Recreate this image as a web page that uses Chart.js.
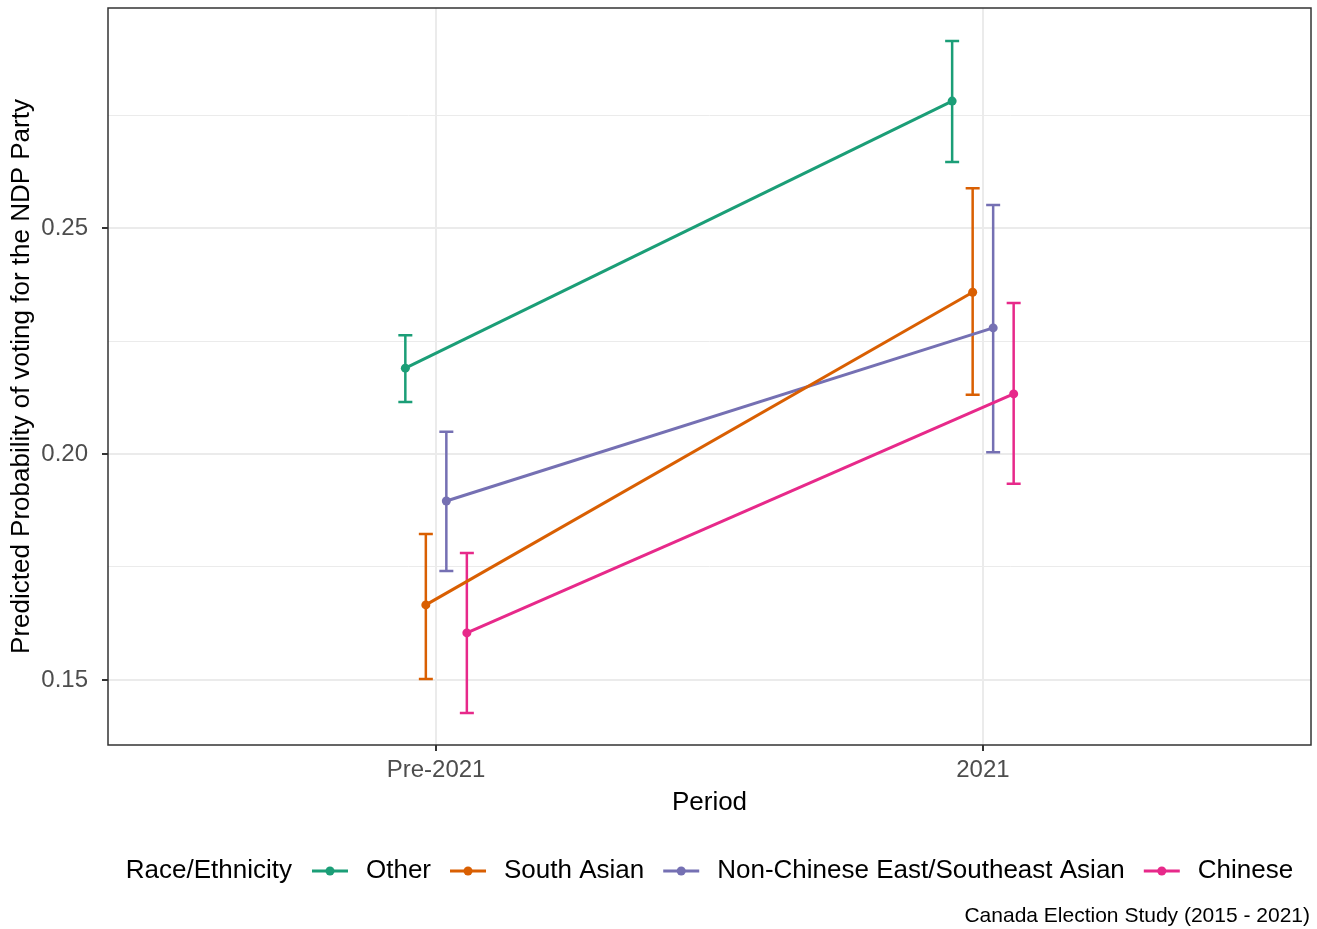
<!DOCTYPE html>
<html>
<head>
<meta charset="utf-8">
<script src="https://cdn.jsdelivr.net/npm/chart.js@4"></script>
<style>
html, body { margin: 0; padding: 0; background: #fff; }
#wrap { width: 1317px; height: 929px; }
</style>
</head>
<body>
<div id="wrap"><canvas id="ndpChart"></canvas></div>
<script>
// data
const periods = ['Pre-2021', '2021'];
const groups = ['Other', 'South Asian', 'Non-Chinese East/Southeast Asian', 'Chinese'];
const colors = ['#1B9E77', '#D95F02', '#7570B3', '#E7298A'];

const otherProb = [0.2190, 0.2781];
const otherLow = [0.2115, 0.2646];
const otherHigh = [0.2263, 0.2914];

const southAsianProb = [0.1666, 0.2358];
const southAsianLow = [0.1502, 0.2131];
const southAsianHigh = [0.1823, 0.2588];

const eastAsianProb = [0.1896, 0.2279];
const eastAsianLow = [0.1741, 0.2004];
const eastAsianHigh = [0.2049, 0.2551];

const chineseProb = [0.1604, 0.2133];
const chineseLow = [0.1427, 0.1934];
const chineseHigh = [0.1781, 0.2334];

const majorTicks = [0.15, 0.20, 0.25];
const minorTicks = [0.175, 0.225, 0.275];
const caption = 'Canada Election Study (2015 - 2021)';
const legendTitle = 'Race/Ethnicity';

const probs = [otherProb, southAsianProb, eastAsianProb, chineseProb];
const lows = [otherLow, southAsianLow, eastAsianLow, chineseLow];
const highs = [otherHigh, southAsianHigh, eastAsianHigh, chineseHigh];

// position_dodge(width = 0.15)
const dodge = [-0.05625, -0.01875, 0.01875, 0.05625];

const FONT = '"Liberation Sans", Arial, Helvetica, sans-serif';
Chart.defaults.font.family = FONT;

const isMajor = v => majorTicks.some(m => Math.abs(m - v) < 1e-6);

const datasets = groups.map((g, i) => ({
    label: g,
    data: periods.map((p, j) => ({ x: j + 1 + dodge[i], y: probs[i][j] })),
    borderColor: colors[i],
    backgroundColor: colors[i],
    borderWidth: 3,
    pointRadius: 4.5,
    pointBorderWidth: 0,
    showLine: true,
    fill: false
}));

const extras = {
    id: 'extras',
    beforeDatasetsDraw(chart) {
        const ctx = chart.ctx;
        const xs = chart.scales.x, ys = chart.scales.y;
        ctx.save();
        ctx.lineWidth = 2.5;
        groups.forEach((g, i) => {
            ctx.strokeStyle = colors[i];
            periods.forEach((p, j) => {
                const x = xs.getPixelForValue(j + 1 + dodge[i]);
                const y1 = ys.getPixelForValue(lows[i][j]);
                const y2 = ys.getPixelForValue(highs[i][j]);
                ctx.beginPath();
                ctx.moveTo(x, y1); ctx.lineTo(x, y2);
                ctx.moveTo(x - 7, y1); ctx.lineTo(x + 7, y1);
                ctx.moveTo(x - 7, y2); ctx.lineTo(x + 7, y2);
                ctx.stroke();
            });
        });
        ctx.restore();
    },
    afterDraw(chart) {
        const ctx = chart.ctx;
        const a = chart.chartArea;
        ctx.save();
        // panel border
        ctx.strokeStyle = '#333333';
        ctx.lineWidth = 1.5;
        ctx.strokeRect(a.left, a.top, a.right - a.left, a.bottom - a.top);

        // legend
        ctx.font = '26px ' + FONT;
        ctx.textBaseline = 'middle';
        ctx.fillStyle = '#000';
        const keyW = 36, gapTitle = 20, gapText = 18, gapItem = 19;
        let total = ctx.measureText(legendTitle).width + gapTitle;
        groups.forEach((g, i) => {
            total += keyW + gapText + ctx.measureText(g).width;
            if (i < groups.length - 1) total += gapItem;
        });
        let x = (a.left + a.right) / 2 - total / 2;
        const ly = a.bottom + 126;
        ctx.fillText(legendTitle, x, ly);
        x += ctx.measureText(legendTitle).width + gapTitle;
        groups.forEach((g, i) => {
            ctx.strokeStyle = colors[i];
            ctx.fillStyle = colors[i];
            ctx.lineWidth = 3;
            ctx.beginPath();
            ctx.moveTo(x, ly); ctx.lineTo(x + keyW, ly);
            ctx.stroke();
            ctx.beginPath();
            ctx.arc(x + keyW / 2, ly, 4.5, 0, Math.PI * 2);
            ctx.fill();
            x += keyW + gapText;
            ctx.fillStyle = '#000';
            ctx.fillText(g, x, ly);
            x += ctx.measureText(g).width + gapItem;
        });

        // caption
        ctx.font = '21px ' + FONT;
        ctx.textAlign = 'right';
        ctx.fillText(caption, chart.width - 7, a.bottom + 171);
        ctx.restore();
    }
};

const chart = new Chart(document.getElementById('ndpChart'), {
    type: 'scatter',
    data: { datasets: datasets },
    options: {
        responsive: true,
        maintainAspectRatio: false,
        animation: false,
        layout: { padding: { top: 8, right: 6, left: 0, bottom: 109 } },
        plugins: {
            legend: { display: false },
            tooltip: { enabled: false }
        },
        scales: {
            x: {
                type: 'linear',
                min: 0.4,
                max: 2.6,
                afterBuildTicks: s => { s.ticks = periods.map((p, j) => ({ value: j + 1 })); },
                afterFit: s => { s.height = 75; s.paddingLeft = 0; s.paddingRight = 0; },
                ticks: {
                    autoSkip: false,
                    padding: 5,
                    color: '#4d4d4d',
                    font: { size: 24 },
                    callback: v => periods[Math.round(v) - 1]
                },
                grid: { color: '#ebebeb', lineWidth: 2, tickColor: '#333333', tickLength: 6 },
                border: { display: false },
                title: {
                    display: true,
                    text: 'Period',
                    color: '#000',
                    font: { size: 26 },
                    padding: { top: 0, bottom: 2 }
                }
            },
            y: {
                type: 'linear',
                min: 0.1356,
                max: 0.2987,
                afterBuildTicks: s => {
                    s.ticks = majorTicks.concat(minorTicks).sort((p, q) => p - q).map(v => ({ value: v }));
                },
                afterFit: s => { s.width = 108; s.paddingTop = 0; s.paddingBottom = 0; },
                ticks: {
                    autoSkip: false,
                    padding: 14,
                    color: '#4d4d4d',
                    font: { size: 24 },
                    callback: v => isMajor(v) ? v.toFixed(2) : ''
                },
                grid: {
                    color: '#ebebeb',
                    lineWidth: c => (c.tick && isMajor(c.tick.value)) ? 2 : 1,
                    tickColor: c => (c.tick && isMajor(c.tick.value)) ? '#333333' : 'rgba(0,0,0,0)',
                    tickLength: 6
                },
                border: { display: false },
                title: {
                    display: true,
                    text: 'Predicted Probability of voting for the NDP Party',
                    color: '#000',
                    font: { size: 26 },
                    padding: { top: 6, bottom: 0 }
                }
            }
        }
    },
    plugins: [extras]
});
</script>
</body>
</html>
